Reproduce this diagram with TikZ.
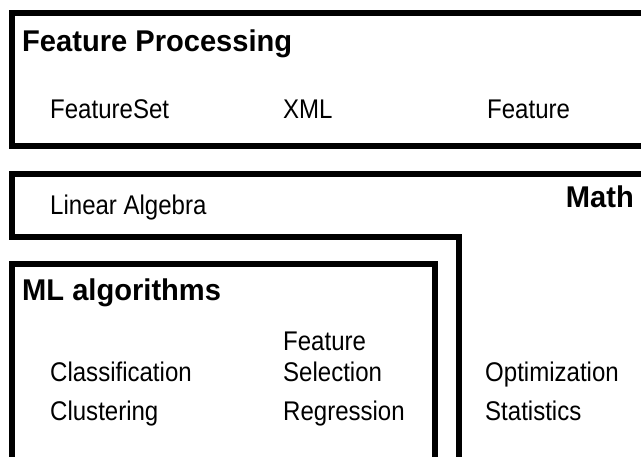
\documentclass[tikz,border=0pt]{standalone}
\usepackage{fontspec}
\setmainfont{Liberation Sans}
\newfontfamily\condfont[FakeStretch=0.89]{Liberation Sans}
\newfontfamily\condbold[FakeStretch=0.97]{Liberation Sans Bold}
\begin{document}
\begin{tikzpicture}[x=1pt,y=-1pt,
  frame/.style={line width=6pt, draw=black, line join=miter},
  lbl/.style={anchor=base west, inner sep=0pt, font=\condfont\fontsize{27}{30}\selectfont},
  ttl/.style={anchor=base west, inner sep=0pt, font=\condbold\fontsize{30}{34}\selectfont}]
\clip (0,0) rectangle (641,456);
\fill[white] (0,0) rectangle (641,456);
% Feature Processing box
\draw[frame] (700,13) -- (12,13) -- (12,146) -- (700,146);
% Math box
\draw[frame] (700,174) -- (12,174) -- (12,237) -- (459,237) -- (459,500);
% ML algorithms box
\draw[frame] (12,500) -- (12,264) -- (434.5,264) -- (434.5,500);
% texts
\node[ttl] (fp) at (22,51) {Feature Processing};
\node[lbl] (fs) at (50,118) {FeatureSet};
\node[lbl] (xml) at (283,118) {XML};
\node[lbl] (feat) at (487,118) {Feature};
\node[lbl] (la) at (50,214) {Linear Algebra};
\node[ttl, anchor=base east] (math) at (634,207) {Math};
\node[ttl] (ml) at (22,300) {ML algorithms};
\node[lbl] (fsel1) at (283,350) {Feature};
\node[lbl] (fsel2) at (283,381) {Selection};
\node[lbl] (cls) at (50,381) {Classification};
\node[lbl] (opt) at (485,381) {Optimization};
\node[lbl] (clu) at (50,420) {Clustering};
\node[lbl] (reg) at (283,420) {Regression};
\node[lbl] (sta) at (485,420) {Statistics};
\end{tikzpicture}
\end{document}
